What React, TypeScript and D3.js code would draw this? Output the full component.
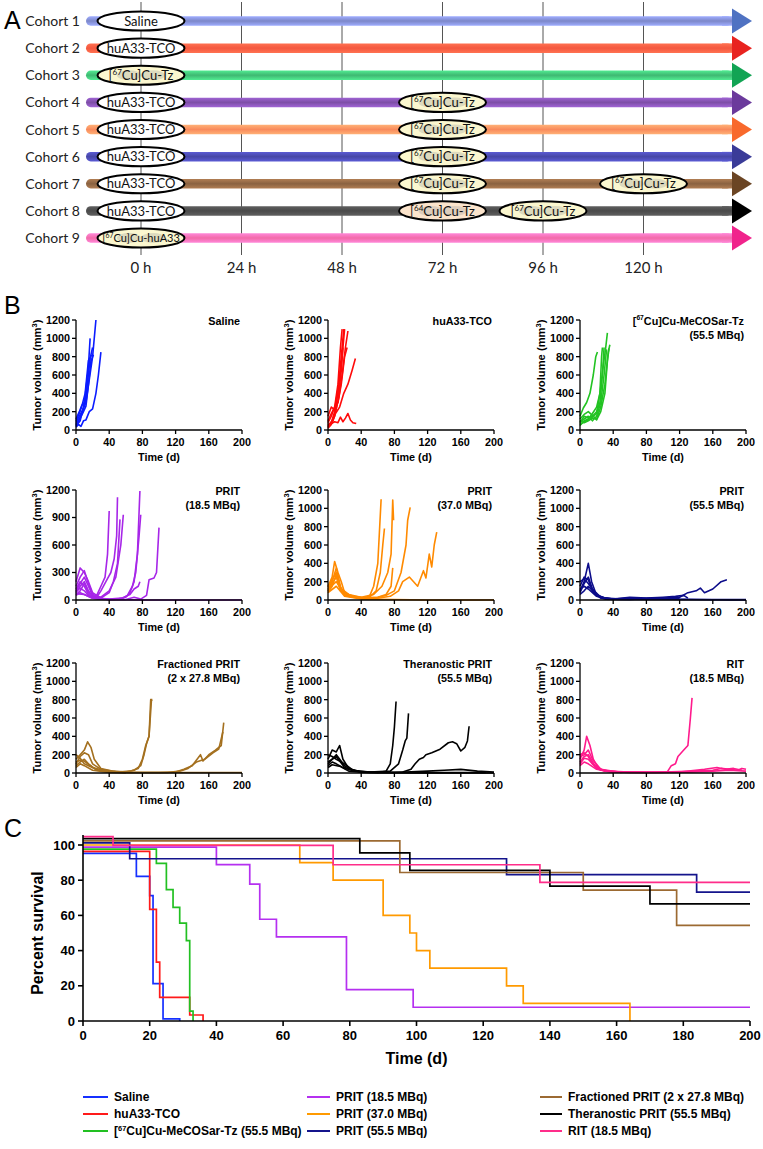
import React from 'react';
import * as d3 from 'd3';

// ---------------- Panel A data ----------------
const cohortNames = ['Cohort 1', 'Cohort 2', 'Cohort 3', 'Cohort 4', 'Cohort 5', 'Cohort 6', 'Cohort 7', 'Cohort 8', 'Cohort 9'];
const cohortBarColors = ['#7c87c9', '#f4583f', '#3fb872', '#7d4ea6', '#f98a5c', '#4747a6', '#8a6241', '#4a4a4a', '#f26aa9'];
const cohortArrowColors = ['#4f72c2', '#e8231f', '#12a454', '#6b3a9c', '#f8692c', '#3a3b98', '#6b4524', '#000000', '#f0248c'];
const hourTicks = [0, 24, 48, 72, 96, 120];
const cohortEvents: [number, string][][] = [
  [[0, 'saline']],
  [[0, 'tco']],
  [[0, 'cu67tz']],
  [[0, 'tco'], [72, 'cu67tz']],
  [[0, 'tco'], [72, 'cu67tz']],
  [[0, 'tco'], [72, 'cu67tz']],
  [[0, 'tco'], [72, 'cu67tz'], [120, 'cu67tz']],
  [[0, 'tco'], [72, 'cu64tz'], [96, 'cu67tz']],
  [[0, 'cu67huA33']],
];
const agentText: Record<string, string> = {
  saline: 'Saline',
  tco: 'huA33-TCO',
  cu67tz: '[^67Cu]Cu-Tz',
  cu64tz: '[^64Cu]Cu-Tz',
  cu67huA33: '[^67Cu]Cu-huA33',
};
const agentFill: Record<string, string> = {
  saline: '#ffffff',
  tco: '#ffffff',
  cu67tz: '#fbf7cf',
  cu64tz: '#fbe4cc',
  cu67huA33: '#fbf7cf',
};

// ---------------- Panel B data (tumour volume per mouse, [day, mm3]) ----------------
const salineCurves = [
  [[0, 60], [4, 120], [8, 200], [12, 350], [15, 700], [17, 1000]],
  [[0, 40], [5, 100], [9, 250], [13, 450], [17, 780], [20, 900]],
  [[0, 100], [4, 180], [7, 260], [11, 400], [15, 760], [19, 820]],
  [[0, 30], [3, 60], [6, 40], [9, 100], [12, 110], [16, 200], [20, 230], [24, 400], [27, 600], [30, 850]],
  [[0, 80], [4, 150], [8, 220], [12, 300], [16, 550], [20, 800], [24, 1200]],
  [[0, 50], [4, 110], [8, 180], [12, 260], [15, 500], [18, 750], [21, 820]],
  [[0, 120], [4, 200], [7, 270], [10, 300], [14, 600], [17, 780]],
];
const tcoCurves = [
  [[0, 30], [4, 80], [8, 200], [12, 400], [16, 800], [19, 1100]],
  [[0, 80], [4, 150], [8, 250], [12, 500], [15, 900], [17, 1100]],
  [[0, 150], [4, 250], [8, 220], [12, 450], [16, 700], [20, 1100]],
  [[0, 50], [5, 100], [9, 200], [13, 350], [17, 600], [21, 900], [24, 1080]],
  [[0, 100], [4, 180], [8, 250], [12, 300], [16, 500], [20, 800], [23, 900]],
  [[0, 60], [5, 80], [9, 180], [14, 250], [19, 400], [24, 500], [29, 650], [33, 780]],
  [[0, 40], [4, 70], [8, 90], [12, 80], [15, 140], [18, 90], [21, 130], [24, 180], [27, 110], [30, 80], [34, 70]],
  [[0, 20], [4, 60], [8, 150], [12, 320], [16, 650], [18, 900]],
];
const cuTzCurves = [
  [[0, 150], [4, 240], [8, 300], [12, 400], [16, 600], [19, 800], [21, 850]],
  [[0, 50], [5, 100], [10, 120], [15, 180], [20, 250], [24, 400], [28, 700], [31, 900], [33, 1060]],
  [[0, 80], [5, 150], [10, 130], [15, 150], [20, 200], [24, 300], [27, 600], [29, 900]],
  [[0, 100], [5, 80], [10, 100], [15, 130], [20, 120], [25, 250], [30, 500], [34, 850], [36, 930]],
  [[0, 60], [5, 90], [10, 110], [15, 140], [20, 180], [24, 400], [26, 800], [27, 900]],
  [[0, 120], [5, 170], [10, 200], [15, 160], [20, 110], [25, 200], [30, 400], [33, 750], [35, 890]],
  [[0, 90], [5, 120], [10, 150], [15, 100], [20, 150], [25, 300], [29, 600], [32, 880]],
];
const prit185Curves = [
  [[0, 200], [5, 350], [10, 300], [15, 200], [20, 80], [25, 50], [30, 150], [35, 250], [38, 500], [40, 970]],
  [[0, 100], [5, 180], [10, 250], [15, 150], [20, 50], [25, 30], [30, 100], [36, 200], [42, 300], [46, 450], [49, 700], [50, 1120]],
  [[0, 80], [5, 150], [10, 200], [15, 100], [20, 40], [30, 20], [40, 80], [45, 200], [50, 400], [53, 880]],
  [[0, 150], [5, 250], [10, 320], [15, 180], [20, 60], [30, 30], [40, 100], [48, 250], [54, 600], [57, 930]],
  [[0, 60], [5, 100], [10, 180], [15, 80], [20, 30], [30, 10], [40, 5], [50, 10], [60, 30], [65, 80], [70, 200], [74, 500], [77, 1190]],
  [[0, 120], [5, 200], [10, 150], [15, 60], [20, 20], [30, 10], [45, 5], [55, 10], [62, 50], [68, 150], [72, 300], [76, 700], [78, 930]],
  [[0, 90], [5, 130], [10, 100], [15, 50], [25, 20], [40, 10], [55, 20], [65, 60], [70, 120], [75, 150], [77, 200]],
  [[0, 50], [5, 80], [10, 60], [20, 20], [40, 5], [60, 5], [70, 30], [78, 10], [85, 50], [88, 220], [94, 240], [97, 300], [100, 790]],
  [[0, 70], [10, 60], [20, 20], [40, 5], [80, 0], [120, 0], [160, 0], [200, 0]],
];
const prit370Curves = [
  [[0, 150], [5, 250], [8, 420], [12, 300], [16, 200], [20, 80], [30, 40], [40, 20], [50, 40], [55, 150], [60, 400], [64, 1100]],
  [[0, 100], [5, 200], [10, 350], [15, 150], [20, 60], [30, 30], [40, 20], [50, 30], [58, 100], [63, 300], [66, 600], [68, 780]],
  [[0, 80], [5, 150], [10, 280], [15, 120], [25, 50], [40, 30], [55, 60], [65, 150], [72, 300], [76, 500], [78, 1090], [79, 870]],
  [[0, 120], [5, 180], [10, 250], [15, 100], [25, 40], [45, 20], [60, 30], [70, 50], [80, 100], [88, 300], [94, 600], [96, 870], [99, 1010]],
  [[0, 140], [5, 220], [10, 300], [15, 130], [25, 60], [45, 20], [60, 20], [75, 40], [85, 100], [90, 200], [98, 250], [108, 150], [115, 320], [118, 240], [122, 500], [125, 360], [128, 600], [131, 740]],
  [[0, 100], [5, 160], [10, 200], [20, 50], [40, 20], [60, 30], [70, 60], [76, 150], [78, 350]],
  [[0, 80], [10, 150], [20, 40], [40, 10], [80, 5], [120, 0], [160, 0], [200, 0]],
];
const prit555Curves = [
  [[0, 100], [5, 200], [10, 400], [14, 200], [20, 50], [30, 20], [40, 10], [60, 20], [80, 15], [100, 20], [120, 30], [130, 80], [140, 100], [145, 130], [150, 80], [160, 120], [170, 200], [177, 220]],
  [[0, 150], [5, 250], [10, 220], [15, 100], [25, 20], [40, 10], [60, 30], [80, 20], [100, 30], [115, 40], [125, 50], [130, 20]],
  [[0, 80], [5, 180], [10, 250], [15, 120], [25, 30], [40, 10], [60, 10], [80, 15], [100, 10], [120, 20]],
  [[0, 120], [5, 150], [10, 120], [20, 40], [30, 10], [50, 5], [80, 5], [120, 5], [160, 5], [200, 5]],
  [[0, 200], [5, 230], [10, 180], [20, 60], [30, 20], [50, 10]],
  [[0, 60], [5, 100], [10, 150], [20, 50], [35, 10], [60, 5], [90, 20], [110, 10], [140, 5], [180, 0], [200, 0]],
];
const fractCurves = [
  [[0, 150], [5, 200], [10, 250], [14, 340], [18, 280], [22, 150], [30, 50], [45, 20], [60, 10], [70, 30], [78, 80], [82, 200], [85, 320], [88, 400], [90, 800], [92, 790]],
  [[0, 100], [5, 180], [10, 220], [15, 200], [20, 100], [30, 40], [50, 10], [65, 20], [75, 50], [80, 150], [84, 300], [88, 400], [91, 810]],
  [[0, 200], [5, 160], [10, 100], [15, 80], [20, 60], [30, 20], [60, 5], [100, 5], [120, 10], [130, 40], [140, 80], [150, 200], [153, 130], [160, 200], [168, 250], [175, 300], [178, 550]],
  [[0, 80], [5, 120], [10, 150], [15, 100], [25, 30], [60, 5], [110, 5], [125, 20], [135, 50], [145, 120], [155, 150], [165, 220], [172, 260], [177, 450]],
  [[0, 120], [5, 140], [10, 130], [20, 60], [40, 10], [80, 5], [120, 5], [160, 5], [200, 5]],
  [[0, 60], [5, 100], [10, 80], [20, 30], [40, 5], [60, 0]],
];
const theraCurves = [
  [[0, 150], [5, 250], [10, 230], [14, 300], [18, 150], [25, 50], [40, 10], [60, 5], [70, 20], [75, 100], [78, 300], [80, 500], [82, 780]],
  [[0, 200], [5, 180], [10, 150], [20, 100], [30, 30], [50, 10], [75, 20], [85, 100], [90, 250], [93, 350], [95, 380], [97, 650]],
  [[0, 100], [5, 150], [10, 200], [20, 80], [30, 20], [60, 5], [90, 10], [100, 40], [105, 100], [110, 150], [115, 170], [118, 200], [125, 220], [135, 260], [145, 330], [150, 340], [155, 320], [160, 240], [165, 280], [168, 350], [170, 510]],
  [[0, 80], [5, 120], [10, 100], [20, 50], [40, 10], [80, 5], [120, 20], [140, 30], [160, 40], [180, 20], [200, 10]],
  [[0, 120], [10, 180], [20, 60], [40, 5], [100, 0], [200, 0]],
  [[0, 60], [5, 90], [15, 70], [25, 20], [50, 5], [100, 5], [150, 5], [190, 5]],
];
const ritCurves = [
  [[0, 150], [5, 250], [8, 400], [12, 300], [16, 150], [22, 50], [30, 20], [60, 10], [90, 5], [105, 10], [110, 80], [115, 100], [118, 180], [125, 250], [130, 300], [133, 600], [135, 820]],
  [[0, 200], [5, 220], [10, 180], [15, 100], [25, 30], [50, 10], [100, 10], [140, 20], [160, 30], [170, 50], [180, 40], [190, 30], [195, 50], [200, 40]],
  [[0, 120], [5, 180], [10, 200], [18, 80], [30, 20], [60, 5], [120, 10], [150, 40], [165, 60], [175, 40], [185, 50], [195, 30]],
  [[0, 100], [5, 160], [10, 150], [20, 50], [40, 10], [80, 5], [130, 10], [160, 20], [180, 30], [200, 20]],
  [[0, 180], [5, 200], [10, 250], [15, 150], [25, 40], [50, 5]],
  [[0, 80], [5, 120], [10, 100], [20, 40], [40, 5]],
];
const volumeTitles = [
  ['Saline'], ['huA33-TCO'], ['[^67Cu]Cu-MeCOSar-Tz', '(55.5 MBq)'],
  ['PRIT', '(18.5 MBq)'], ['PRIT', '(37.0 MBq)'], ['PRIT', '(55.5 MBq)'],
  ['Fractioned PRIT', '(2 x 27.8 MBq)'], ['Theranostic PRIT', '(55.5 MBq)'], ['RIT', '(18.5 MBq)'],
];
const volumeColors = ['#0b1cff', '#ff0a0a', '#22c322', '#a726e8', '#ff8a00', '#0c0c8a', '#a4701f', '#000000', '#ff1a8c'];
const volumeData = [salineCurves, tcoCurves, cuTzCurves, prit185Curves, prit370Curves, prit555Curves, fractCurves, theraCurves, ritCurves];
const dayTicks = [0, 40, 80, 120, 160, 200];
const volTicksDefault = [0, 200, 400, 600, 800, 1000, 1200];
const volTicksPrit185 = [0, 300, 600, 900, 1200];

// ---------------- Panel C data (Kaplan-Meier steps, [day, %]) ----------------
const survSaline = [[0, 100], [16, 87], [20, 76], [21, 26], [24, 6], [29, 0]];
const survTco = [[0, 100], [20, 67], [22, 37], [23, 17], [32, 7], [36, 0]];
const survCuTz = [[0, 100], [22, 92], [25, 77], [27, 67], [29, 58], [31, 48], [32, 8], [33, 0]];
const survPrit185 = [[0, 100], [40, 90], [50, 79], [53, 59], [58, 49], [79, 19], [99, 9], [200, 9]];
const survPrit370 = [[0, 100], [65, 90], [75, 80], [90, 60], [98, 50], [100, 40], [104, 30], [127, 20], [132, 10], [164, 0]];
const survPrit555 = [[0, 100], [14, 91], [127, 82], [184, 72], [200, 72]];
const survFract = [[0, 100], [95, 82], [150, 72], [178, 52], [200, 52]];
const survThera = [[0, 100], [83, 92], [98, 82], [140, 73], [170, 63], [200, 63]];
const survRit = [[0, 100], [9, 95], [75, 84], [137, 74], [200, 74]];
const survivalSeries = [survSaline, survTco, survCuTz, survPrit185, survPrit370, survPrit555, survFract, survThera, survRit];
const survivalNames = ['Saline', 'huA33-TCO', '[^67Cu]Cu-MeCOSar-Tz (55.5 MBq)', 'PRIT (18.5 MBq)', 'PRIT (37.0 MBq)', 'PRIT (55.5 MBq)', 'Fractioned PRIT (2 x 27.8 MBq)', 'Theranostic PRIT (55.5 MBq)', 'RIT (18.5 MBq)'];
const survivalColors = ['#1530ff', '#ff1a1a', '#22c022', '#b530f0', '#ff9a00', '#14148c', '#9c6a32', '#000000', '#ff2d8a'];
const survTicksX = [0, 20, 40, 60, 80, 100, 120, 140, 160, 180, 200];
const survTicksY = [0, 20, 40, 60, 80, 100];

// ---------------- helpers ----------------
const ARIAL = '"Liberation Sans", Arial, sans-serif';
const MYRIAD = 'Lato, "Open Sans", sans-serif';

function rich(text: string, fs: number) {
  const parts = text.split(/\^(\d+)/);
  const out: any[] = [];
  parts.forEach((p, i) => {
    if (i % 2 === 1) {
      out.push(<tspan key={i} fontSize={fs * 0.62} dy={-fs * 0.38}>{p}</tspan>);
    } else if (p.length) {
      out.push(<tspan key={i} dy={i > 0 ? fs * 0.38 : 0}>{p}</tspan>);
    }
  });
  return out;
}

function PanelA() {
  const tx = d3.scaleLinear().domain([0, 120]).range([141, 643.5]);
  const ry = d3.scaleLinear().domain([0, 8]).range([21, 238]);
  const barX0 = 86, barX1 = 732, arrowTip = 752, barH = 9.5;
  return (
    <g>
      <text x={4} y={29} fontFamily={ARIAL} fontSize={25}>A</text>
      <defs>
        {cohortBarColors.map((c, i) => {
          const light = d3.color(c)!.brighter(0.7).formatHex();
          return (
            <linearGradient key={i} id={`bar${i}`} x1="0" y1="0" x2="0" y2="1">
              <stop offset="0%" stopColor={light} />
              <stop offset="50%" stopColor={c} />
              <stop offset="100%" stopColor={light} />
            </linearGradient>
          );
        })}
      </defs>
      {hourTicks.map((h) => (
        <g key={h}>
          <line x1={tx(h)} x2={tx(h)} y1={2} y2={255} stroke="#555" strokeWidth={1} />
          <text x={tx(h)} y={273} textAnchor="middle" fontFamily={MYRIAD} fontSize={15} fill="#222">{`${h} h`}</text>
        </g>
      ))}
      {cohortNames.map((name, i) => {
        const y = ry(i);
        return (
          <g key={name}>
            <text x={80} y={y + 5} textAnchor="end" fontFamily={MYRIAD} fontSize={14} fill="#222">{name}</text>
            <rect x={barX0} y={y - barH / 2} width={barX1 - barX0} height={barH} rx={barH / 2} fill={`url(#bar${i})`} />
            <rect x={barX1 - 10} y={y - barH / 2} width={10} height={barH} fill={`url(#bar${i})`} />
            <path d={`M${barX1},${y - 12.5}L${arrowTip},${y}L${barX1},${y + 12.5}Z`} fill={cohortArrowColors[i]} />
            {cohortEvents[i].map(([h, agent], j) => {
              const cx = tx(h);
              const fill = agentFill[agent];
              const fs = agent === 'cu67huA33' ? 11 : 13;
              return (
                <g key={j}>
                  <ellipse cx={cx} cy={y} rx={43.5} ry={9.6} fill={fill} stroke="#000" strokeWidth={2} />
                  {fill !== '#ffffff' && (
                    <g opacity={0.3}>
                      <ellipse cx={cx - 12} cy={y} rx={12} ry={5} fill="#9a9a9a" />
                      <ellipse cx={cx + 12} cy={y} rx={12} ry={5} fill="#9a9a9a" />
                    </g>
                  )}
                  <text x={cx} y={y + fs * 0.36} textAnchor="middle" fontFamily={MYRIAD} fontSize={fs} fill="#111">
                    {rich(agentText[agent], fs)}
                  </text>
                </g>
              );
            })}
          </g>
        );
      })}
    </g>
  );
}

function VolumePanel({ idx }: { idx: number }) {
  const colX = [76, 328, 580];
  const rowTop = [320, 490, 663];
  const w = 166, h = 110;
  const x0 = colX[idx % 3];
  const top = rowTop[Math.floor(idx / 3)];
  const xs = d3.scaleLinear().domain([0, 200]).range([x0, x0 + w]);
  const ys = d3.scaleLinear().domain([0, 1200]).range([top + h, top]);
  const yTicks = idx === 3 ? volTicksPrit185 : volTicksDefault;
  const line = d3.line<number[]>().x((d) => xs(d[0])).y((d) => ys(d[1]));
  const color = volumeColors[idx];
  const fs = 10.8;
  const title = volumeTitles[idx];
  return (
    <g fontFamily={ARIAL} fontWeight="bold" fontSize={fs}>
      {volumeData[idx].map((c, i) => (
        <path key={i} d={line(c as number[][])!} fill="none" stroke={color} strokeWidth={1.6} strokeLinejoin="round" />
      ))}
      <line x1={x0} x2={x0} y1={top} y2={top + h} stroke="#000" strokeWidth={1.3} />
      <line x1={x0} x2={x0 + w} y1={top + h} y2={top + h} stroke="#000" strokeWidth={1.3} />
      {yTicks.map((t) => (
        <g key={t}>
          <line x1={x0 - 4} x2={x0} y1={ys(t)} y2={ys(t)} stroke="#000" strokeWidth={1.3} />
          <text x={x0 - 6} y={ys(t) + 3.9} textAnchor="end">{t}</text>
        </g>
      ))}
      {dayTicks.map((t) => (
        <g key={t}>
          <line x1={xs(t)} x2={xs(t)} y1={top + h} y2={top + h + 4} stroke="#000" strokeWidth={1.3} />
          <text x={xs(t)} y={top + h + 16} textAnchor="middle">{t}</text>
        </g>
      ))}
      <text x={x0 + w / 2} y={top + h + 31} textAnchor="middle">Time (d)</text>
      <text transform={`translate(${x0 - 35},${top + h / 2}) rotate(-90)`} textAnchor="middle" fontSize={11.2}>
        <tspan>Tumor volume (mm</tspan>
        <tspan fontSize={7.5} dy={-4}>3</tspan>
        <tspan dy={4}>)</tspan>
      </text>
      {title.map((t, i) => (
        <text key={i} x={x0 + w - 2} y={top + 4.5 + i * 14} textAnchor="end">{rich(t, fs)}</text>
      ))}
    </g>
  );
}

function PanelC() {
  const xs = d3.scaleLinear().domain([0, 200]).range([83, 750]);
  const ys = d3.scaleLinear().domain([0, 100]).range([1021, 845]);
  const yBottom = ys(0);
  const offsets = survivalSeries.map((_, i) => (4 - i) * 2.1);
  const legendCols = [[83, 114], [307, 336], [540, 568]];
  const legendRows = [1097, 1114, 1131];
  return (
    <g fontFamily={ARIAL} fontWeight="bold">
      <text x={4} y={837} fontSize={25} fontWeight="normal">C</text>
      {survivalSeries.map((s, i) => {
        const line = d3.line<number[]>()
          .x((d) => xs(d[0]))
          .y((d) => Math.min(ys(d[1]) + offsets[i], yBottom))
          .curve(d3.curveStepAfter);
        return <path key={i} d={line(s as number[][])!} fill="none" stroke={survivalColors[i]} strokeWidth={1.7} />;
      })}
      <line x1={83} x2={83} y1={835} y2={yBottom} stroke="#000" strokeWidth={1.6} />
      <line x1={83} x2={750} y1={yBottom} y2={yBottom} stroke="#000" strokeWidth={1.6} />
      {survTicksY.map((t) => (
        <g key={t}>
          <line x1={78} x2={83} y1={ys(t)} y2={ys(t)} stroke="#000" strokeWidth={1.6} />
          <text x={75} y={ys(t) + 4.5} textAnchor="end" fontSize={13}>{t}</text>
        </g>
      ))}
      {survTicksX.map((t) => (
        <g key={t}>
          <line x1={xs(t)} x2={xs(t)} y1={yBottom} y2={yBottom + 5} stroke="#000" strokeWidth={1.6} />
          <text x={xs(t)} y={yBottom + 19} textAnchor="middle" fontSize={13}>{t}</text>
        </g>
      ))}
      <text x={(83 + 750) / 2} y={1064} textAnchor="middle" fontSize={16}>Time (d)</text>
      <text transform={`translate(43,${(845 + 1021) / 2}) rotate(-90)`} textAnchor="middle" fontSize={16}>Percent survival</text>
      {survivalNames.map((n, i) => {
        const [lx, tx] = legendCols[Math.floor(i / 3)];
        const y = legendRows[i % 3];
        return (
          <g key={n}>
            <line x1={lx} x2={tx - 6} y1={y} y2={y} stroke={survivalColors[i]} strokeWidth={2} />
            <text x={tx} y={y + 4.3} fontSize={12}>{rich(n, 12)}</text>
          </g>
        );
      })}
    </g>
  );
}

export default function App() {
  return (
    <svg width={763} height={1149} viewBox="0 0 763 1149" style={{ position: 'absolute', left: 0, top: 0, background: '#fff' }}>
      <rect x={0} y={0} width={763} height={1149} fill="#fff" />
      <PanelA />
      <text x={4} y={314} fontFamily={ARIAL} fontSize={25}>B</text>
      {volumeData.map((_, i) => <VolumePanel key={i} idx={i} />)}
      <PanelC />
    </svg>
  );
}
